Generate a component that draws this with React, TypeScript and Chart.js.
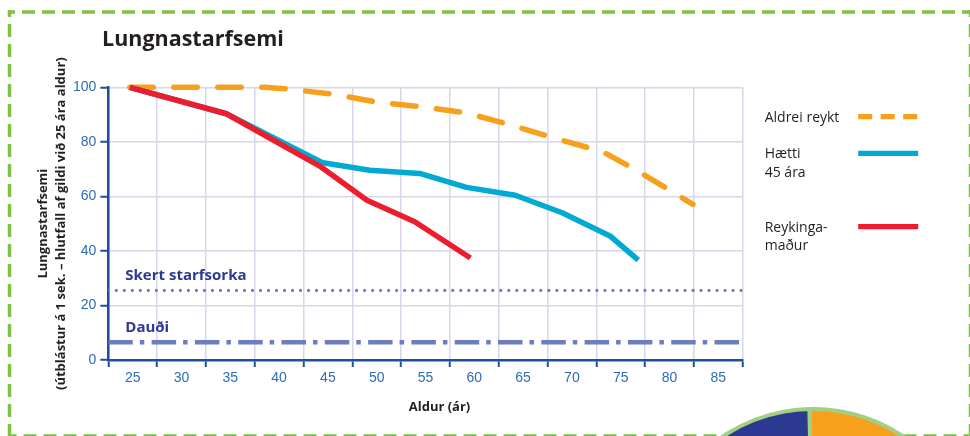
import React, { useEffect, useRef } from 'react';
import { Chart, registerables } from 'chart.js';

Chart.register(...registerables);

// ---------- data ----------
const xBoundaries = [22.5, 27.5, 32.5, 37.5, 42.5, 47.5, 52.5, 57.5, 62.5, 67.5, 72.5, 77.5, 82.5, 87.5];
const xLabels = ['25', '30', '35', '40', '45', '50', '55', '60', '65', '70', '75', '80', '85'];
const yTickValues = [0, 20, 40, 60, 80, 100];

const neverAges = [24.7, 38.5, 40.5, 42.8, 45.9, 50.3, 54.8, 59.2, 63.8, 68.1, 73.2, 76.6, 80.7, 82.4];
const neverValues = [100, 100, 99.5, 98.6, 97.3, 94.4, 92.8, 90.6, 86.1, 81.5, 76.3, 69.6, 60.8, 57.1];

const quitAges = [24.7, 34.6, 44.5, 49.3, 54.4, 59.2, 64.2, 69.0, 73.9, 76.8];
const quitValues = [100, 90.3, 72.3, 69.6, 68.4, 63.3, 60.4, 54.0, 45.5, 36.6];

const smokerAges = [24.7, 34.6, 44.3, 49.0, 53.9, 59.6];
const smokerValues = [100, 90.3, 70.8, 58.6, 50.7, 37.4];

const disabilityLevel = 25.5;
const deathLevel = 6.5;

const titleText = 'Lungnastarfsemi';
const xTitleText = 'Aldur (ár)';
const yTitleLines = ['Lungnastarfsemi', '(útblástur á 1 sek. – hlutfall af gildi við 25 ára aldur)'];
const disabilityLabel = 'Skert starfsorka';
const deathLabel = 'Dauði';
const legendNever = ['Aldrei reykt'];
const legendQuit = ['Hætti', '45 ára'];
const legendSmoker = ['Reykinga-', 'maður'];

const pieLabels = ['Appelsínugult', 'Blátt'];
const pieValues = [45, 55];

// ---------- styles ----------
const RED = '#ed1c2e';
const BLUE = '#00aad3';
const ORANGE = '#f7a01c';
const GRID = '#d6d6ec';
const AXIS = '#1d4f9d';
const TICK = '#2f6cb4';
const REF = '#6d7dbf';
const NAVY = '#2b3990';
const GREEN = '#7dc242';
const DARK = '#231f20';

const pts = (xs: number[], ys: number[]) => xs.map((x, i) => ({ x, y: ys[i] }));

const decorPlugin = {
  id: 'decor',
  beforeDraw(chart: any) {
    const ctx = chart.ctx as CanvasRenderingContext2D;
    const W = chart.width;
    const H = chart.height;
    ctx.save();
    ctx.strokeStyle = GREEN;
    ctx.lineWidth = 3.5;
    ctx.setLineDash([13, 7]);
    ctx.lineDashOffset = 6;
    ctx.beginPath();
    ctx.moveTo(8, 12);
    ctx.lineTo(W, 12);
    ctx.stroke();
    ctx.beginPath();
    ctx.moveTo(9.5, 10);
    ctx.lineTo(9.5, H);
    ctx.stroke();
    ctx.beginPath();
    ctx.moveTo(9.5, H);
    ctx.lineTo(W, H);
    ctx.stroke();
    ctx.beginPath();
    ctx.moveTo(W + 0.5, 10);
    ctx.lineTo(W + 0.5, H);
    ctx.stroke();
    ctx.restore();
  },
  afterDraw(chart: any) {
    const ctx = chart.ctx as CanvasRenderingContext2D;
    const area = chart.chartArea;
    const yScale = chart.scales.y;
    ctx.save();
    // title
    ctx.fillStyle = DARK;
    ctx.font = 'bold 21.5px "Open Sans"';
    ctx.textAlign = 'left';
    ctx.textBaseline = 'alphabetic';
    ctx.fillText(titleText, 102, 46);

    // x axis title
    ctx.font = 'bold 13px "Open Sans"';
    ctx.textAlign = 'center';
    ctx.textBaseline = 'middle';
    ctx.fillText(xTitleText, (area.left + area.right) / 2 + 14, 407);

    // reference labels
    ctx.fillStyle = NAVY;
    ctx.font = 'bold 15px "Open Sans"';
    ctx.textAlign = 'left';
    ctx.fillText(disabilityLabel, area.left + 17, yScale.getPixelForValue(disabilityLevel) - 15);
    ctx.fillText(deathLabel, area.left + 17, yScale.getPixelForValue(deathLevel) - 14.5);

    // legend
    const lx = area.right + 22;
    const sx0 = area.right + 115.5;
    const sx1 = area.right + 175.5;
    const entries = [
      { lines: legendNever, color: ORANGE, dash: [14, 8.5], base: area.top + 34.4 },
      { lines: legendQuit, color: BLUE, dash: [], base: area.top + 71 },
      { lines: legendSmoker, color: RED, dash: [], base: area.top + 144.4 },
    ];
    ctx.font = '14px "Open Sans"';
    ctx.textBaseline = 'alphabetic';
    for (const e of entries) {
      ctx.fillStyle = DARK;
      e.lines.forEach((t, i) => ctx.fillText(t, lx, e.base + i * 18.5));
      ctx.strokeStyle = e.color;
      ctx.lineWidth = 5.3;
      ctx.lineCap = 'butt';
      ctx.setLineDash(e.dash);
      ctx.beginPath();
      ctx.moveTo(sx0, e.base - 5);
      ctx.lineTo(sx1, e.base - 5);
      ctx.stroke();
    }
    ctx.restore();
  },
};

export default function App() {
  const mainRef = useRef<HTMLCanvasElement>(null);
  const pieRef = useRef<HTMLCanvasElement>(null);

  useEffect(() => {
    const xMin = xBoundaries[0];
    const xMax = xBoundaries[xBoundaries.length - 1];
    const tickFont = { family: '"Liberation Sans", Arial, sans-serif', size: 14 };

    const chart = new Chart(mainRef.current as HTMLCanvasElement, {
      type: 'line',
      data: {
        datasets: [
          {
            label: legendSmoker.join(''),
            data: pts(smokerAges, smokerValues),
            borderColor: RED,
            borderWidth: 5.5,
            pointRadius: 0,
            borderJoinStyle: 'round',
            borderCapStyle: 'butt',
            order: 0,
            clip: false,
          },
          {
            label: legendQuit.join(' '),
            data: pts(quitAges, quitValues),
            borderColor: BLUE,
            borderWidth: 5.5,
            pointRadius: 0,
            borderJoinStyle: 'round',
            borderCapStyle: 'butt',
            order: 1,
            clip: false,
          },
          {
            label: legendNever.join(' '),
            data: pts(neverAges, neverValues),
            borderColor: ORANGE,
            borderWidth: 5.5,
            pointRadius: 0,
            borderDash: [23.5, 20.5],
            borderJoinStyle: 'round',
            borderCapStyle: 'round',
            order: 2,
            clip: false,
          },
          {
            label: disabilityLabel,
            data: [{ x: xMin, y: disabilityLevel }, { x: xMax, y: disabilityLevel }],
            borderColor: REF,
            borderWidth: 3.2,
            pointRadius: 0,
            borderDash: [0.01, 8],
            borderCapStyle: 'round',
            order: 3,
          },
          {
            label: deathLabel,
            data: [{ x: xMin, y: deathLevel }, { x: xMax, y: deathLevel }],
            borderColor: REF,
            borderWidth: 4.3,
            pointRadius: 0,
            borderDash: [24.5, 7, 4.5, 7.3],
            borderCapStyle: 'butt',
            order: 4,
          },
        ],
      },
      options: {
        animation: false,
        responsive: true,
        maintainAspectRatio: false,
        events: [],
        layout: { padding: { left: 0, right: 227.3, top: 87.3, bottom: 0 } },
        plugins: { legend: { display: false }, tooltip: { enabled: false } },
        scales: {
          x: {
            type: 'linear',
            min: xMin,
            max: xMax,
            afterBuildTicks: (s: any) => {
              s.ticks = xBoundaries.map((v) => ({ value: v }));
            },
            afterFit: (s: any) => {
              s.height = 76;
            },
            grid: { color: GRID, lineWidth: 1.5, tickLength: 7, tickColor: AXIS, tickWidth: 2 },
            border: { color: AXIS, width: 2.5 },
            ticks: {
              autoSkip: false,
              maxRotation: 0,
              padding: 3,
              labelOffset: 24.4,
              color: TICK,
              font: tickFont,
              callback: (_v: any, i: number) => xLabels[i] ?? '',
            },
          },
          y: {
            min: 0,
            max: 100,
            afterBuildTicks: (s: any) => {
              s.ticks = yTickValues.map((v) => ({ value: v }));
            },
            afterFit: (s: any) => {
              s.width = 108.3;
            },
            grid: { color: GRID, lineWidth: 1.5, tickLength: 8, tickColor: AXIS, tickWidth: 2 },
            border: { color: AXIS, width: 2.5 },
            ticks: {
              padding: 4,
              color: TICK,
              font: tickFont,
              callback: (v: any) => String(v),
            },
            title: {
              display: true,
              text: yTitleLines,
              color: DARK,
              font: { family: '"Open Sans"', weight: 'bold', size: 13, lineHeight: 18 / 13 },
              padding: { top: 34, bottom: 0 },
            },
          },
        },
      },
      plugins: [decorPlugin],
    } as any);

    const pie = new Chart(pieRef.current as HTMLCanvasElement, {
      type: 'pie',
      data: {
        labels: pieLabels,
        datasets: [
          {
            data: pieValues,
            backgroundColor: [ORANGE, NAVY],
            borderColor: '#a3cf85',
            borderWidth: 4,
            hoverOffset: 0,
          },
        ],
      },
      options: {
        animation: false,
        responsive: true,
        maintainAspectRatio: false,
        events: [],
        rotation: -1.3,
        radius: 162,
        layout: { padding: 0 },
        plugins: { legend: { display: false }, tooltip: { enabled: false } },
      },
    } as any);

    return () => {
      chart.destroy();
      pie.destroy();
    };
  }, []);

  return (
    <div style={{ position: 'absolute', left: 0, top: 0, width: 970, height: 436, overflow: 'hidden', background: '#fff' }}>
      <div style={{ position: 'absolute', left: 0, top: 0, width: 970, height: 436 }}>
        <canvas ref={mainRef} />
      </div>
      <div style={{ position: 'absolute', left: 642.5, top: 401, width: 340, height: 340 }}>
        <canvas ref={pieRef} />
      </div>
    </div>
  );
}
